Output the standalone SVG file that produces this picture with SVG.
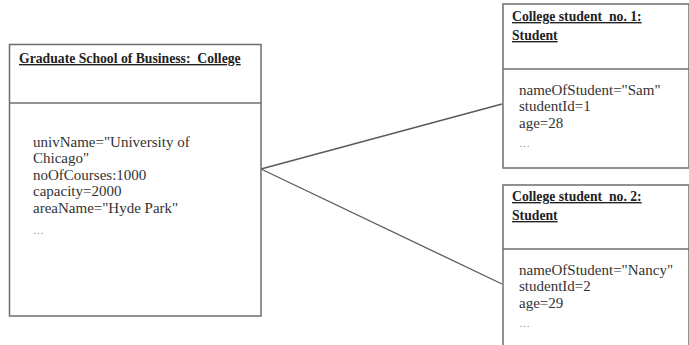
<svg xmlns="http://www.w3.org/2000/svg" width="689" height="345" viewBox="0 0 689 345">
<style>
.box{fill:#fff;stroke:#6e6e6e;stroke-width:1.5}
.div{stroke:#6e6e6e;stroke-width:1.5}
.title{font-family:"Liberation Serif",serif;font-weight:bold;font-size:13.7px;fill:#222;text-decoration:underline;white-space:pre}
.attr{font-family:"Liberation Serif",serif;font-size:15px;fill:#333}
.dots{font-family:"Liberation Serif",serif;font-size:11px;fill:#888}
.con{stroke:#5a5a5a;stroke-width:1.3;fill:none}
</style>
<rect width="689" height="345" fill="#fff"/>
<g id="connectors">
<line class="con" x1="261" y1="169" x2="502" y2="104"/>
<line class="con" x1="261" y1="169" x2="502" y2="284"/>
</g>
<g id="college">
<rect class="box" x="9.5" y="44.5" width="251.5" height="271.5"/>
<line class="div" x1="9.5" y1="103" x2="261" y2="103"/>
<text class="title" x="19" y="63">Graduate School of Business:  College</text>
<text class="attr" x="33" y="147">univName="University of</text>
<text class="attr" x="33" y="163">Chicago"</text>
<text class="attr" x="33" y="180">noOfCourses:1000</text>
<text class="attr" x="33" y="196">capacity=2000</text>
<text class="attr" x="33" y="213">areaName="Hyde Park"</text>
<text class="dots" x="33" y="234">…</text>
</g>
<g id="student1">
<rect class="box" x="503" y="4" width="186" height="164"/>
<line class="div" x1="503" y1="69" x2="689" y2="69"/>
<text class="title" x="512" y="21" xml:space="preserve">College student  no. 1:</text>
<text class="title" x="512" y="40">Student</text>
<text class="attr" x="519" y="95">nameOfStudent="Sam"</text>
<text class="attr" x="519" y="111">studentId=1</text>
<text class="attr" x="519" y="128">age=28</text>
<text class="dots" x="519" y="147">…</text>
</g>
<g id="student2">
<rect class="box" x="503" y="185" width="186" height="165"/>
<line class="div" x1="503" y1="249" x2="689" y2="249"/>
<text class="title" x="512" y="201" xml:space="preserve">College student  no. 2:</text>
<text class="title" x="512" y="220">Student</text>
<text class="attr" x="519" y="275">nameOfStudent="Nancy"</text>
<text class="attr" x="519" y="291">studentId=2</text>
<text class="attr" x="519" y="308">age=29</text>
<text class="dots" x="519" y="327">…</text>
</g>
</svg>
